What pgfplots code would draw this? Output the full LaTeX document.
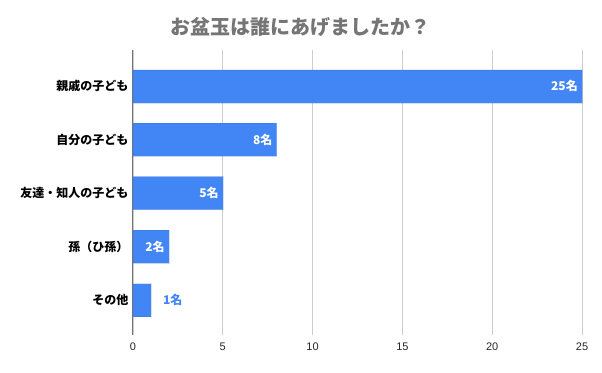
\documentclass[border=0pt]{standalone}
\usepackage{pgfplots}
\pgfplotsset{compat=1.18}
\usepackage{fontspec}
\setmainfont{Liberation Sans}
\newfontfamily\cjk{Noto Sans CJK JP}
\definecolor{barblue}{HTML}{4285F4}
\definecolor{titlegray}{HTML}{757575}
\definecolor{gridgray}{HTML}{CCCCCC}
\begin{document}
\begin{tikzpicture}
\path (-133pt,-37pt) rectangle (469pt,335pt);
\begin{axis}[
  scale only axis,
  width=449pt, height=285pt,
  xmin=0, xmax=25,
  ymin=-0.68, ymax=4.655,
  y dir=reverse,
  xbar, bar width=33pt, bar shift=0pt,
  xtick={0,5,10,15,20,25},
  ytick={0,1,2,3,4},
  yticklabels={親戚の子ども,自分の子ども,友達・知人の子ども,孫（ひ孫）,その他},
  yticklabel style={font=\cjk\bfseries\fontsize{12}{14}\selectfont, text=black, xshift=-1pt},
  xticklabel style={font=\fontsize{11}{13}\selectfont, text=black!85, yshift=-4pt},
  /pgf/number format/assume math mode=true,
  xmajorgrids, grid style={gridgray, line width=0.8pt},
  axis line style={draw=none},
  major tick length=0pt,
  extra x ticks={0}, extra x tick labels={},
  extra x tick style={grid style={black!55, line width=1pt}},
  clip=false,
]
\addplot[fill=barblue, draw=barblue!80!black, draw opacity=0.2,
  nodes near coords={\pgfplotspointmeta{}名},
  point meta=explicit symbolic,
  every node near coord/.style={font=\cjk\bfseries\fontsize{12}{14}\selectfont, text=white, anchor=east, xshift=-4pt, inner sep=0pt}]
  coordinates {(25,0) [25] (8,1) [8] (5,2) [5] (2,3) [2]};
\addplot[fill=barblue, draw=barblue!80!black, draw opacity=0.2,
  nodes near coords={\pgfplotspointmeta{}名},
  point meta=explicit symbolic,
  every node near coord/.style={font=\cjk\bfseries\fontsize{12}{14}\selectfont, text=barblue, anchor=west, xshift=12pt, inner sep=0pt}]
  coordinates {(1,4) [1]};
\end{axis}
\node[font=\cjk\bfseries\fontsize{20}{23}\selectfont, text=titlegray] at (167pt,308pt) {お盆玉は誰にあげましたか？};
\end{tikzpicture}
\end{document}
